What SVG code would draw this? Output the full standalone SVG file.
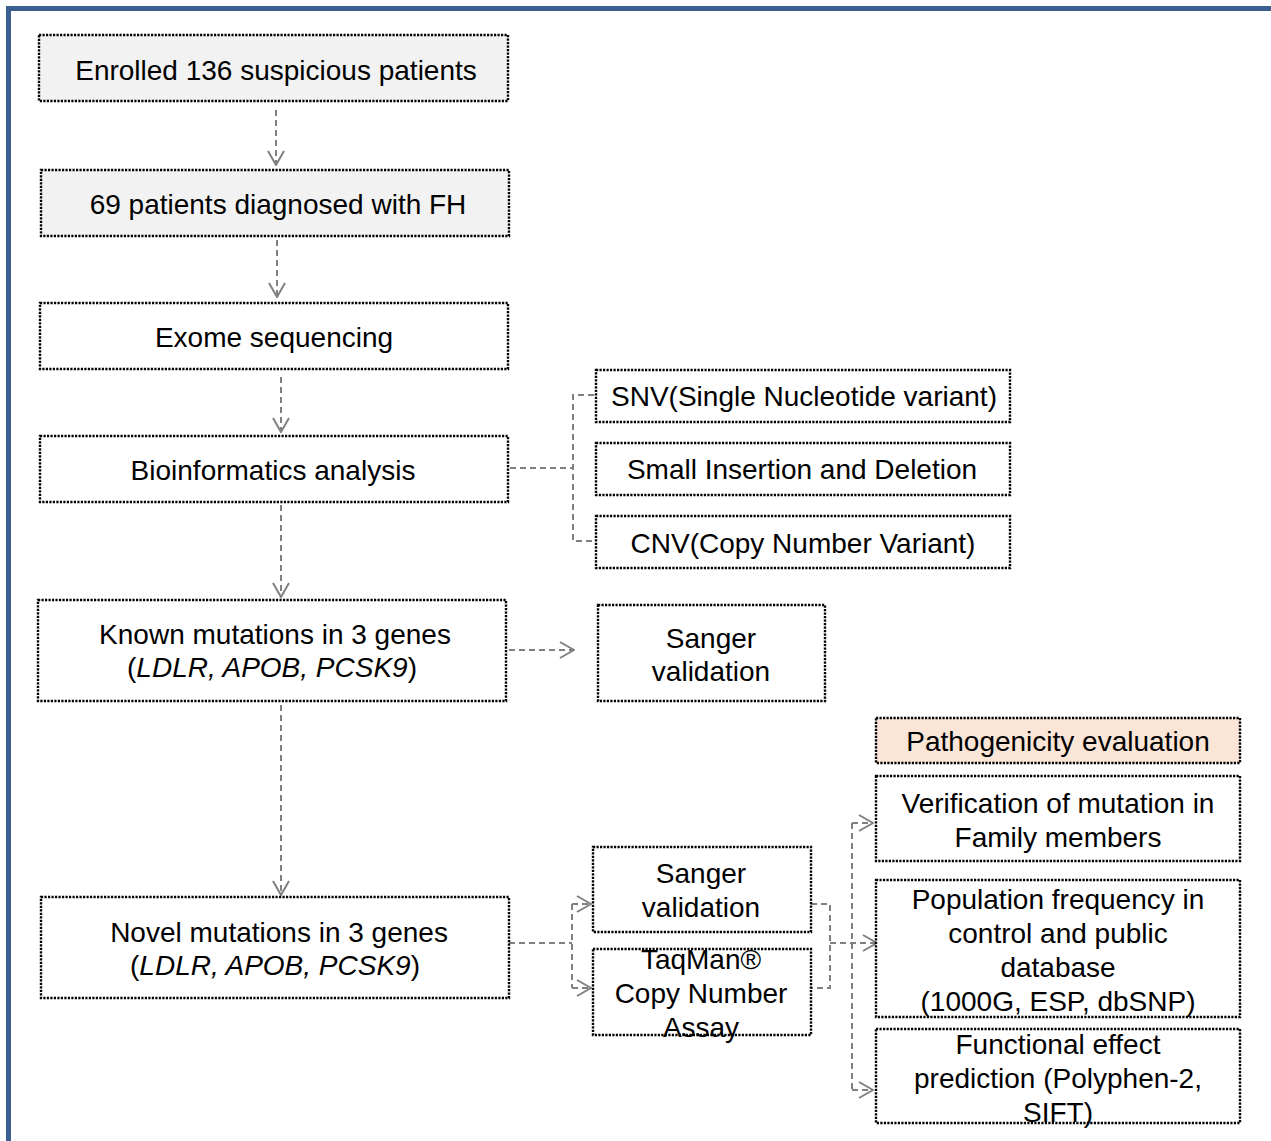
<svg xmlns="http://www.w3.org/2000/svg" width="1271" height="1141" viewBox="0 0 1271 1141">
<defs>
<style>
.box{fill:#ffffff;stroke:#000;stroke-width:2.4;stroke-dasharray:2.2 1.3}
.grey{fill:#f2f2f2}
.peach{fill:#fbe5d6}
.t{font-family:"Liberation Sans",Arial,sans-serif;font-size:28px;fill:#000;text-anchor:middle}
.c{fill:none;stroke:#808080;stroke-width:2;stroke-dasharray:6 4}
.ca{fill:none;stroke:#808080;stroke-width:2;stroke-dasharray:6 4;marker-end:url(#arr)}
</style>
<marker id="arr" viewBox="0 0 16 18" refX="15" refY="9" markerWidth="16" markerHeight="18" markerUnits="userSpaceOnUse" orient="auto">
<path d="M1,1 L15,9 L1,17" fill="none" stroke="#808080" stroke-width="2"/>
</marker>
</defs>
<rect x="0" y="0" width="1271" height="1141" fill="#ffffff"/>
<path d="M8.5,1141 V8.5 H1271" fill="none" stroke="#3b5f8e" stroke-width="5"/>

<g id="connectors">
<path class="ca" d="M276,110 V165"/>
<path class="ca" d="M277,240 V297"/>
<path class="ca" d="M281,377 V432"/>
<path class="ca" d="M281,505 V597"/>
<path class="ca" d="M281,705 V895"/>
<path class="c" d="M510,468 H573"/>
<path class="c" d="M594,395 H573 V541 H594"/>
<path class="ca" d="M509,650 H574"/>
<path class="c" d="M509,943 H572"/>
<path class="c" d="M572,904 V988"/>
<path class="ca" d="M572,904 H591"/>
<path class="ca" d="M572,988 H591"/>
<path class="c" d="M811,904 H830 V988 H811"/>
<path class="ca" d="M830,943 H877"/>
<path class="c" d="M852,823 V1090"/>
<path class="ca" d="M852,823 H873"/>
<path class="ca" d="M852,1090 H873"/>
</g>

<g id="n-enrolled"><rect class="box grey" x="39" y="35" width="469" height="66"/><text class="t" x="276" y="80">Enrolled 136 suspicious patients</text></g>
<g id="n-fh"><rect class="box grey" x="41" y="170" width="468" height="66"/><text class="t" x="278" y="214">69 patients diagnosed with FH</text></g>
<g id="n-exome"><rect class="box" x="40" y="303" width="468" height="66"/><text class="t" x="274" y="347">Exome sequencing</text></g>
<g id="n-bio"><rect class="box" x="40" y="436" width="468" height="66"/><text class="t" x="273" y="480">Bioinformatics analysis</text></g>
<g id="n-known"><rect class="box" x="38" y="600" width="468" height="101"/><text class="t" x="275" y="644">Known mutations in 3 genes</text><text class="t" x="272" y="677">(<tspan font-style="italic">LDLR, APOB, PCSK9</tspan>)</text></g>
<g id="n-novel"><rect class="box" x="41" y="897" width="468" height="101"/><text class="t" x="279" y="942">Novel mutations in 3 genes</text><text class="t" x="275" y="975">(<tspan font-style="italic">LDLR, APOB, PCSK9</tspan>)</text></g>
<g id="n-snv"><rect class="box" x="596" y="370" width="414" height="52"/><text class="t" x="804" y="406">SNV(Single Nucleotide variant)</text></g>
<g id="n-indel"><rect class="box" x="596" y="443" width="414" height="52"/><text class="t" x="802" y="479">Small Insertion and Deletion</text></g>
<g id="n-cnv"><rect class="box" x="596" y="516" width="414" height="52"/><text class="t" x="803" y="553">CNV(Copy Number Variant)</text></g>
<g id="n-sanger1"><rect class="box" x="598" y="605" width="227" height="96"/><text class="t" x="711" y="648">Sanger</text><text class="t" x="711" y="681">validation</text></g>
<g id="n-patho"><rect class="box peach" x="876" y="718" width="364" height="45"/><text class="t" x="1058" y="751">Pathogenicity evaluation</text></g>
<g id="n-verif"><rect class="box" x="876" y="776" width="364" height="85"/><text class="t" x="1058" y="813">Verification of mutation in</text><text class="t" x="1058" y="847">Family members</text></g>
<g id="n-pop"><rect class="box" x="876" y="880" width="364" height="137"/><text class="t" x="1058" y="909">Population frequency in</text><text class="t" x="1058" y="943">control and public</text><text class="t" x="1058" y="977">database</text><text class="t" x="1058" y="1011">(1000G, ESP, dbSNP)</text></g>
<g id="n-func"><rect class="box" x="876" y="1029" width="364" height="94"/><text class="t" x="1058" y="1054">Functional effect</text><text class="t" x="1058" y="1088">prediction (Polyphen-2,</text><text class="t" x="1058" y="1122">SIFT)</text></g>
<g id="n-sanger2"><rect class="box" x="593" y="847" width="218" height="85"/><text class="t" x="701" y="883">Sanger</text><text class="t" x="701" y="917">validation</text></g>
<g id="n-taqman"><rect class="box" x="593" y="949" width="218" height="86"/><text class="t" x="701" y="969">TaqMan®</text><text class="t" x="701" y="1003">Copy Number</text><text class="t" x="701" y="1037">Assay</text></g>
</svg>
